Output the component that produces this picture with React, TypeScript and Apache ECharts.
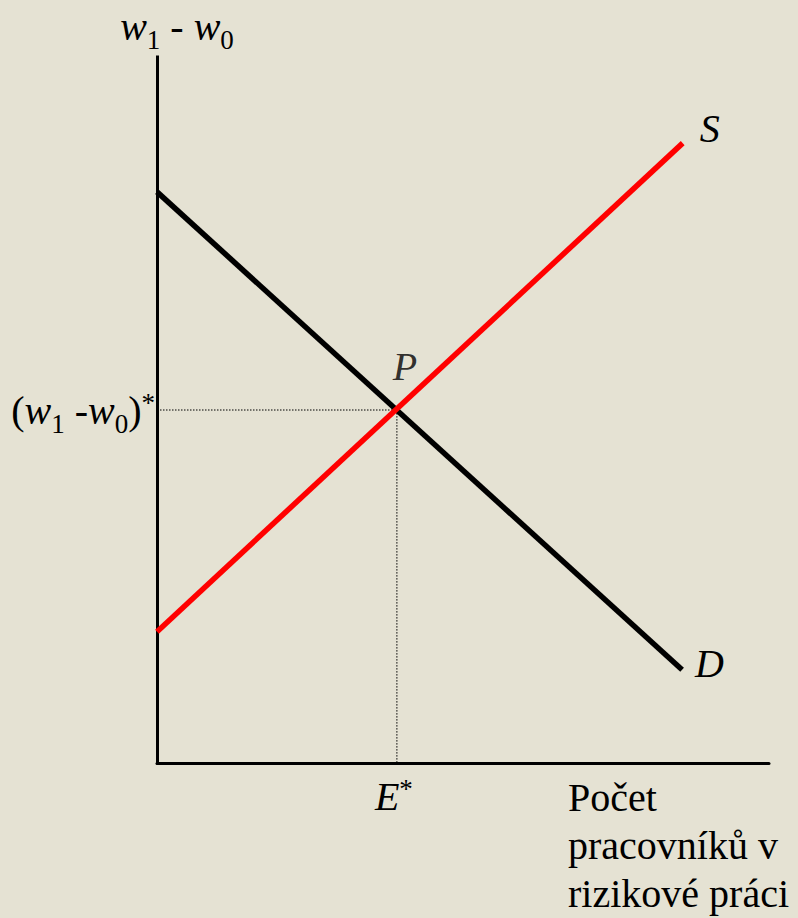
import React, { useEffect, useRef } from "react";
import * as echarts from "echarts";

// Data (axis units 0–100 on both axes)
const demandX = [0, 85.8];
const demandY = [80.9, 13.2];
const supplyX = [0, 85.9];
const supplyY = [18.6, 87.8];
const equilibrium = [39.2, 50.0];
const curveNames = ["D", "S"];
const xTitleLines = ["Počet", "pracovníků v", "rizikové práci"];

const SERIF = "'Liberation Serif', 'Times New Roman', serif";
const BG = "#E5E2D3";

const rich = {
  i: { fontFamily: SERIF, fontSize: 40, fontStyle: "italic", color: "#000", verticalAlign: "middle" },
  r: { fontFamily: SERIF, fontSize: 40, color: "#000", verticalAlign: "middle" },
  sub: { fontFamily: SERIF, fontSize: 27, color: "#000", padding: [27, 0, 0, 0], verticalAlign: "middle" },
  sup: { fontFamily: SERIF, fontSize: 27, color: "#000", padding: [0, 0, 15, 0], verticalAlign: "middle" },
  supE: { fontFamily: SERIF, fontSize: 27, color: "#000", padding: [0, 6, 15, 0], verticalAlign: "middle" },
};

export default function App() {
  const ref = useRef<HTMLDivElement>(null);
  useEffect(() => {
    document.body.style.margin = "0";
    document.body.style.background = BG;
    const chart = echarts.init(ref.current!, null, { renderer: "svg" });
    const zip = (xs: number[], ys: number[]) => xs.map((x, k) => [x, ys[k]]);
    chart.setOption({
      animation: false,
      backgroundColor: BG,
      grid: { left: 157, right: 29, top: 57, bottom: 155 },
      xAxis: {
        type: "value",
        min: 0,
        max: 100,
        axisLine: { show: true, lineStyle: { color: "#000", width: 3 } },
        axisTick: { show: false },
        splitLine: { show: false },
        axisLabel: {
          show: true,
          customValues: [equilibrium[0]],
          margin: 12,
          formatter: () => "{i|E}{supE|*}",
          rich,
        },
      },
      yAxis: {
        type: "value",
        min: 0,
        max: 100,
        name: "{i|w}{sub|1}{r| - }{i|w}{sub|0}",
        nameLocation: "end",
        nameGap: 4,
        nameTextStyle: { rich, padding: [0, 0, 0, 40] },
        axisLine: { show: true, lineStyle: { color: "#000", width: 3, cap: "square" } },
        axisTick: { show: false },
        splitLine: { show: false },
        axisLabel: {
          show: true,
          customValues: [equilibrium[1]],
          margin: 2,
          formatter: () => "{r|(}{i|w}{sub|1}{r| -}{i|w}{sub|0}{r|)}{sup|*}",
          rich,
        },
      },
      series: [
        {
          type: "line",
          name: "guides",
          data: [[0, equilibrium[1]], equilibrium, [equilibrium[0], 0]],
          symbol: "none",
          lineStyle: { color: "#000", width: 1, type: [1.5, 1.5] },
          z: 1,
        },
        {
          type: "line",
          name: curveNames[0],
          data: zip(demandX, demandY),
          symbol: "none",
          lineStyle: { color: "#000", width: 5.5 },
          endLabel: {
            show: true,
            distance: 0,
            offset: [13, -6.5],
            formatter: curveNames[0],
            fontFamily: SERIF,
            fontSize: 40,
            fontStyle: "italic",
            color: "#000",
          },
          z: 3,
        },
        {
          type: "line",
          name: curveNames[1],
          data: zip(supplyX, supplyY),
          symbol: "none",
          lineStyle: { color: "#FF0000", width: 5.5 },
          endLabel: {
            show: true,
            distance: 0,
            offset: [17, -14.5],
            formatter: curveNames[1],
            fontFamily: SERIF,
            fontSize: 40,
            fontStyle: "italic",
            color: "#000",
          },
          z: 4,
        },
        {
          type: "scatter",
          data: [equilibrium],
          symbolSize: 0,
          label: {
            show: true,
            position: "top",
            distance: 24,
            offset: [8, 0],
            formatter: "P",
            fontFamily: SERIF,
            fontSize: 40,
            fontStyle: "italic",
            color: "#000",
          },
          z: 5,
        },
      ],
      graphic: [
        {
          type: "text",
          left: 568,
          top: 773,
          style: {
            text: xTitleLines.join("\n"),
            font: `40px ${SERIF}`,
            lineHeight: 48,
            fill: "#000",
          },
        },
      ],
    });
    return () => chart.dispose();
  }, []);
  return <div ref={ref} style={{ width: 798, height: 918, background: BG }} />;
}
